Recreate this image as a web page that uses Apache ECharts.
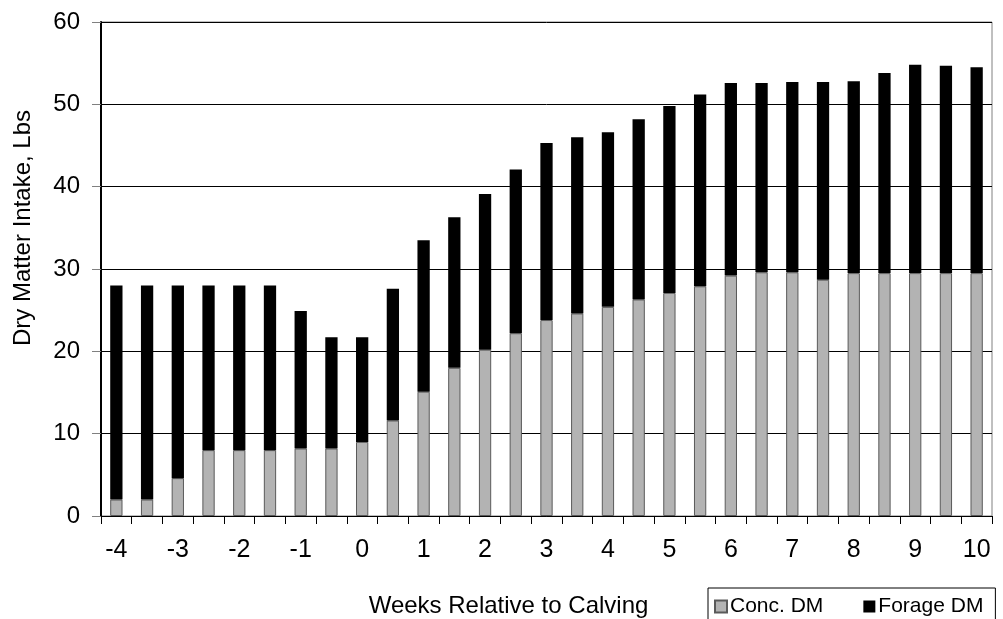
<!DOCTYPE html>
<html>
<head>
<meta charset="utf-8">
<script src="https://cdn.jsdelivr.net/npm/echarts@6/dist/echarts.min.js"></script>
<style>
html,body{margin:0;padding:0;background:#fff;}
#chart{width:1003px;height:619px;}
</style>
</head>
<body>
<div id="chart"></div>
<script>
const weeks = ['-4','-3.5','-3','-2.5','-2','-1.5','-1','-0.5','0','0.5','1','1.5','2','2.5','3','3.5','4','4.5','5','5.5','6','6.5','7','7.5','8','8.5','9','9.5','10'];
const concDM = [2.0,2.0,4.6,8.0,8.0,8.0,8.2,8.2,9.0,11.6,15.1,18.0,20.2,22.2,23.8,24.6,25.4,26.3,27.1,27.9,29.2,29.6,29.6,28.7,29.5,29.5,29.5,29.5,29.5];
const totalDM = [28.0,28.0,28.0,28.0,28.0,28.0,24.9,21.7,21.7,27.6,33.5,36.3,39.1,42.1,45.3,46.0,46.6,48.2,49.8,51.2,52.6,52.6,52.7,52.7,52.8,53.8,54.8,54.7,54.5];
const forageDM = totalDM.map((t, i) => +(t - concDM[i]).toFixed(1));
const yTicks = [0, 10, 20, 30, 40, 50, 60];

const font = "'Liberation Sans', Arial, sans-serif";
const chart = echarts.init(document.getElementById('chart'));
chart.setOption({
  animation: false,
  backgroundColor: '#ffffff',
  textStyle: { fontFamily: font, color: '#000' },
  grid: { left: 101, right: 11, top: 22, bottom: 103, show: true, borderColor: '#808080', borderWidth: 1, outerBoundsMode: 'none', containLabel: false },
  legend: {
    left: 708, top: 588,
    padding: [8, 12, 12, 6],
    borderColor: '#000', borderWidth: 1,
    itemWidth: 12, itemHeight: 12, itemGap: 40,
    icon: 'rect',
    textStyle: { fontFamily: font, fontSize: 21, color: '#000', padding: [0, 0, 0, -2] },
    data: ['Conc. DM', 'Forage DM']
  },
  xAxis: {
    type: 'category',
    data: weeks,
    boundaryGap: true,
    name: 'Weeks Relative to Calving',
    nameLocation: 'middle',
    nameGap: 78,
    nameTextStyle: { fontFamily: font, fontSize: 24, color: '#000', padding: [0, 76, 0, 0] },
    axisLine: { lineStyle: { color: '#000', width: 1 } },
    axisTick: { show: true, interval: 0, length: 8, lineStyle: { color: '#000' } },
    axisLabel: { interval: 1, fontFamily: font, fontSize: 25, color: '#000', margin: 22 },
    splitLine: { show: false }
  },
  yAxis: {
    type: 'value',
    min: 0, max: 60, interval: 10,
    name: 'Dry Matter Intake, Lbs',
    nameLocation: 'middle',
    nameGap: 66,
    nameTextStyle: { fontFamily: font, fontSize: 24, color: '#000', padding: [0, 0, 0, 82] },
    axisLine: { show: true, lineStyle: { color: '#000', width: 2 } },
    axisTick: { show: true, length: 9, lineStyle: { color: '#808080' } },
    axisLabel: { fontFamily: font, fontSize: 24, color: '#000', margin: 21,
      formatter: v => yTicks.includes(v) ? String(v) : '' },
    splitLine: { show: true, lineStyle: { color: '#000', width: 1 } }
  },
  series: [
    {
      name: 'Conc. DM', type: 'bar', stack: 'dm', data: concDM,
      barWidth: '40%',
      itemStyle: { color: '#b3b3b3', borderColor: '#5a5a5a', borderWidth: 1 }
    },
    {
      name: 'Forage DM', type: 'bar', stack: 'dm', data: forageDM,
      barWidth: '40%',
      itemStyle: { color: '#000000', borderColor: '#000', borderWidth: 0 }
    }
  ]
});
</script>
</body>
</html>
